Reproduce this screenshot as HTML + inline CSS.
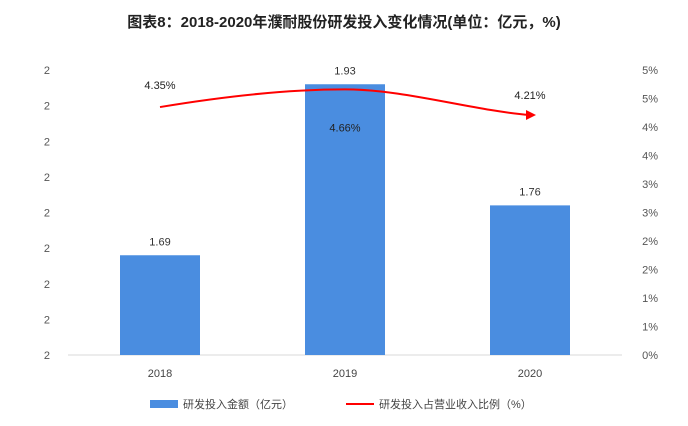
<!DOCTYPE html>
<html><head><meta charset="utf-8"><style>
body{margin:0;background:#fff;font-family:"Liberation Sans","Noto Sans CJK SC",sans-serif;}
svg text{font-family:"Liberation Sans","Noto Sans CJK SC",sans-serif;}
</style></head><body>
<svg id="c" width="688" height="421" xmlns="http://www.w3.org/2000/svg">
<text x="344" y="27" text-anchor="middle" font-size="15" font-weight="bold" fill="#222">图表8：2018-2020年濮耐股份研发投入变化情况(单位：亿元，%)</text>
<line x1="68" y1="355" x2="622" y2="355" stroke="#d9d9d9"/>
<g id="g"></g>
<g>
<rect x="150" y="400" width="28" height="8" fill="#4a8de0"/>
<text x="183" y="408" font-size="11" fill="#444">研发投入金额（亿元）</text>
<line x1="346" y1="404" x2="374" y2="404" stroke="#f00" stroke-width="2"/>
<text x="379" y="408" font-size="11" fill="#444">研发投入占营业收入比例（%）</text>
</g>
</svg>
<script>
const categories=["2018","2019","2020"];
const amounts=[1.69,1.93,1.76];
const ratios=[4.35,4.66,4.21];
const leftTicks=[1.55,1.6,1.65,1.7,1.75,1.8,1.85,1.9,1.95];
const rightTicks=[0,0.5,1,1.5,2,2.5,3,3.5,4,4.5,5];
const NS="http://www.w3.org/2000/svg";
const g=document.getElementById('g');
const y0=355,yTop=70;
const yL=v=>y0-(v-1.55)/(1.95-1.55)*(y0-yTop);
const yR=v=>y0-v/5*(y0-yTop);
const xC=i=>160+i*185;
function mk(t,a,txt){const e=document.createElementNS(NS,t);for(const k in a)e.setAttribute(k,a[k]);if(txt!=null)e.textContent=txt;g.appendChild(e);return e;}
leftTicks.forEach(v=>{const e=mk('text',{x:50,y:yL(v)+4,'text-anchor':'end','font-size':11,fill:'#555'},Math.round(v));

});
rightTicks.forEach(v=>{const e=mk('text',{x:658,y:yR(v)+4,'text-anchor':'end','font-size':11,fill:'#555'},Math.round(v)+'%');

});
categories.forEach((c,i)=>{
const b=mk('rect',{x:xC(i)-40,y:yL(amounts[i]),width:80,height:y0-yL(amounts[i]),fill:'#4a8de0'});


const l=mk('text',{x:xC(i),y:yL(amounts[i])-10,'text-anchor':'middle','font-size':11,fill:'#333'},amounts[i].toFixed(2));


const t=mk('text',{x:xC(i),y:y0+22,'text-anchor':'middle','font-size':11,fill:'#444'},c);


});
const p=ratios.map((v,i)=>[xC(i),yR(v)]);
const d=`M${p[0][0]},${p[0][1]} C${p[0][0]+60},${p[0][1]-10} ${p[1][0]-60},${p[1][1]} ${p[1][0]},${p[1][1]} S${p[2][0]-60},${p[2][1]-5} ${p[2][0]},${p[2][1]}`;
const ln=mk('path',{d:d,fill:'none',stroke:'#f00','stroke-width':2});


const ah=mk('polygon',{points:`${p[2][0]+6},${p[2][1]} ${p[2][0]-4},${p[2][1]-5} ${p[2][0]-4},${p[2][1]+5}`,fill:'#f00'});


const off=[-18,42,-16];
ratios.forEach((v,i)=>{const e=mk('text',{x:xC(i),y:yR(v)+off[i],'text-anchor':'middle','font-size':11,fill:'#222'},v.toFixed(2)+'%');

});
</script>
</body></html>
